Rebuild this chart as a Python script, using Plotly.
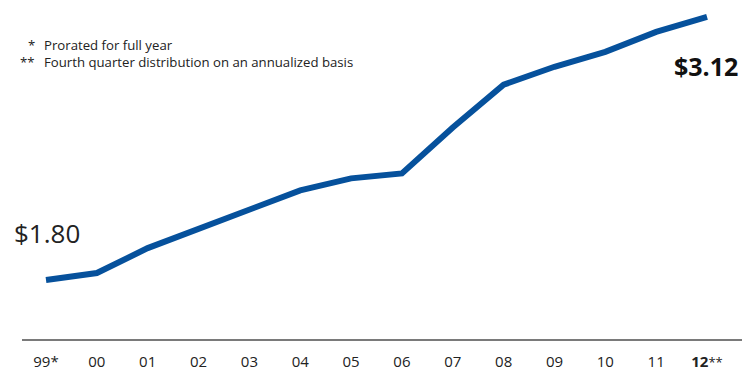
import plotly.graph_objects as go

years = ["99", "00", "01", "02", "03", "04", "05", "06", "07", "08", "09", "10", "11", "12"]
tick_labels = ["99*", "00", "01", "02", "03", "04", "05", "06", "07", "08", "09", "10", "11",
               "<b>12</b><span style='font-size:13px'>**</span>"]
dividends = [1.80, 1.835, 1.96, 2.055, 2.15, 2.25, 2.31, 2.335, 2.565, 2.78, 2.87, 2.945, 3.045, 3.12]

x_idx = list(range(len(years)))
FONT = "Open Sans"
FN = 13.2

fig = go.Figure()
fig.add_trace(go.Scatter(
    x=x_idx, y=dividends, mode="lines",
    line=dict(color="#06519c", width=6),
    hoverinfo="skip", showlegend=False,
))

fig.update_layout(
    width=742, height=372,
    margin=dict(l=22, r=0, t=0, b=33, autoexpand=False),
    paper_bgcolor="white", plot_bgcolor="white",
    font=dict(family=FONT, color="#222"),
    xaxis=dict(
        range=[-0.472, 13.688],
        tickmode="array", tickvals=x_idx, ticktext=tick_labels,
        showgrid=False, zeroline=False, automargin=False,
        showline=True, linecolor="#7a7a7a", linewidth=1.5,
        ticks="outside", ticklen=8, tickcolor="rgba(0,0,0,0)",
        tickfont=dict(family=FONT, size=15, color="#222"),
        fixedrange=True,
    ),
    yaxis=dict(
        range=[1.504, 3.205], visible=False, fixedrange=True, automargin=False,
    ),
    annotations=[
        dict(text="$1.80", xref="paper", yref="paper", x=-0.0139, y=0.313,
             xanchor="left", yanchor="middle", showarrow=False,
             font=dict(family=FONT, size=26, color="#222")),
        dict(text="<b>$3.12</b>", xref="paper", yref="paper", x=0.997, y=0.805,
             xanchor="right", yanchor="middle", showarrow=False,
             font=dict(family=FONT, size=25, color="#111")),
        dict(text="*", xref="paper", yref="paper", x=(37 - 22) / 720, y=(339 - 45) / 339,
             xanchor="right", yanchor="middle", showarrow=False,
             font=dict(family=FONT, size=FN, color="#222")),
        dict(text="Prorated for full year", xref="paper", yref="paper", x=(42 - 22) / 720, y=(339 - 45) / 339,
             xanchor="left", yanchor="middle", showarrow=False,
             font=dict(family=FONT, size=FN, color="#222")),
        dict(text="**", xref="paper", yref="paper", x=(37 - 22) / 720, y=(339 - 62) / 339,
             xanchor="right", yanchor="middle", showarrow=False,
             font=dict(family=FONT, size=FN, color="#222")),
        dict(text="Fourth quarter distribution on an annualized basis", xref="paper", yref="paper",
             x=(42 - 22) / 720, y=(339 - 62) / 339,
             xanchor="left", yanchor="middle", showarrow=False,
             font=dict(family=FONT, size=FN, color="#222")),
    ],
)

fig.write_html("out.html")
